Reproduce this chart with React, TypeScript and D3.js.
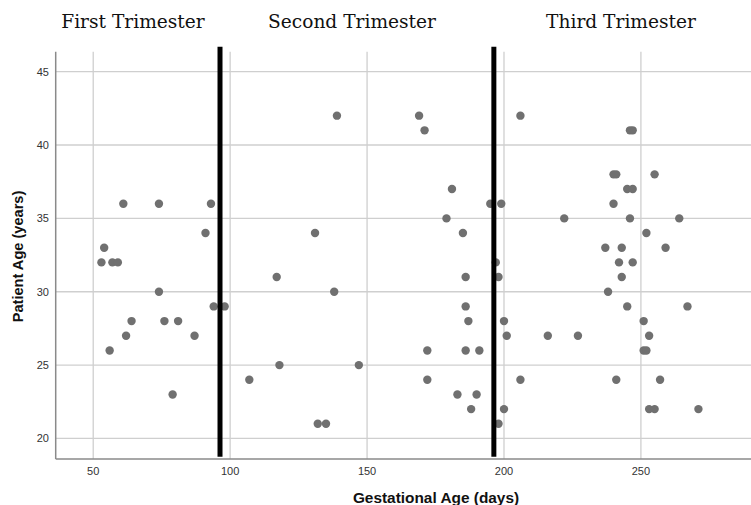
import React from 'react'
import * as d3 from 'd3'

// gestational age (days) / patient age (years), one entry per patient
const gestationalDays = [
  61, 74, 93, 91, 54, 53, 57, 59, 74, 94, 98, 64, 76, 81, 62, 87, 56, 79,
  107, 139, 131, 169, 171, 181, 179, 185, 195, 117, 138, 118, 147, 132, 135, 186, 186, 187, 172, 186, 191, 172, 183, 190, 188,
  199, 206, 246, 247, 240, 241, 255, 245, 247, 240, 222, 246, 264, 252, 237, 243, 259, 242, 247, 197, 198, 243, 238, 245, 267,
  200, 251, 201, 216, 227, 253, 251, 252, 206, 241, 257, 200, 253, 255, 271, 198,
]
const patientAges = [
  36, 36, 36, 34, 33, 32, 32, 32, 30, 29, 29, 28, 28, 28, 27, 27, 26, 23,
  24, 42, 34, 42, 41, 37, 35, 34, 36, 31, 30, 25, 25, 21, 21, 31, 29, 28, 26, 26, 26, 24, 23, 23, 22,
  36, 42, 41, 41, 38, 38, 38, 37, 37, 36, 35, 35, 35, 34, 33, 33, 33, 32, 32, 32, 31, 31, 30, 29, 29,
  28, 28, 27, 27, 27, 27, 26, 26, 24, 24, 24, 22, 22, 22, 22, 21,
]

const xTicks = [50, 100, 150, 200, 250]
const yTicks = [20, 25, 30, 35, 40, 45]
const trimesterBreaks = [96.3, 196.3]
const trimesterTitles = ['First Trimester', 'Second Trimester', 'Third Trimester']

const width = 751
const height = 505
const margin = { top: 51.7, right: 0, bottom: 46, left: 55.7 }

export default function App() {
  const x = d3.scaleLinear().domain([36.3, 290.2]).range([margin.left, width - margin.right])
  const y = d3.scaleLinear().domain([18.6, 46.36]).range([height - margin.bottom, margin.top])

  const titleX = [133, 352, 621]

  return (
    <svg width={width} height={height} style={{ position: 'absolute', left: 0, top: 0, background: '#fff' }}>
      {/* grid */}
      <g stroke="#cfcfcf" strokeWidth={1.3}>
        {yTicks.map(t => (
          <line key={'gy' + t} x1={margin.left} x2={width} y1={y(t)} y2={y(t)} />
        ))}
        {xTicks.map(t => (
          <line key={'gx' + t} x1={x(t)} x2={x(t)} y1={margin.top} y2={height - margin.bottom} />
        ))}
      </g>

      {/* axes */}
      <g stroke="#8a8a8a" strokeWidth={1.5}>
        <line x1={margin.left} x2={margin.left} y1={margin.top} y2={height - margin.bottom} />
        <line x1={margin.left} x2={width} y1={height - margin.bottom} y2={height - margin.bottom} />
      </g>

      <g fontFamily="Liberation Sans, Arial, sans-serif" fontSize={11} fill="#333">
        {yTicks.map(t => (
          <text key={'ty' + t} x={49} y={y(t)} dy="0.35em" textAnchor="end">{t}</text>
        ))}
        {xTicks.map(t => (
          <text key={'tx' + t} x={x(t)} y={475} textAnchor="middle">{t}</text>
        ))}
      </g>

      {/* points */}
      <g fill="#707070">
        {gestationalDays.map((d, i) => (
          <circle key={i} cx={x(d)} cy={y(patientAges[i])} r={4.2} />
        ))}
      </g>

      {/* trimester dividers */}
      {trimesterBreaks.map(b => (
        <line key={'b' + b} x1={x(b)} x2={x(b)} y1={y(46.7)} y2={y(18.75)} stroke="#000" strokeWidth={5} />
      ))}

      {/* titles */}
      <g fontFamily="DejaVu Serif, serif" fontSize={18.6} fill="#111">
        {trimesterTitles.map((t, i) => (
          <text key={t} x={titleX[i]} y={28} textAnchor="middle">{t}</text>
        ))}
      </g>

      <text
        transform={`translate(23,256.5) rotate(-90)`}
        textAnchor="middle"
        fontFamily="Liberation Sans, Arial, sans-serif"
        fontWeight="bold"
        fontSize={14.6}
        fill="#111"
      >
        Patient Age (years)
      </text>
      <text
        x={436}
        y={502.5}
        textAnchor="middle"
        fontFamily="Liberation Sans, Arial, sans-serif"
        fontWeight="bold"
        fontSize={15.4}
        fill="#111"
      >
        Gestational Age (days)
      </text>
    </svg>
  )
}
